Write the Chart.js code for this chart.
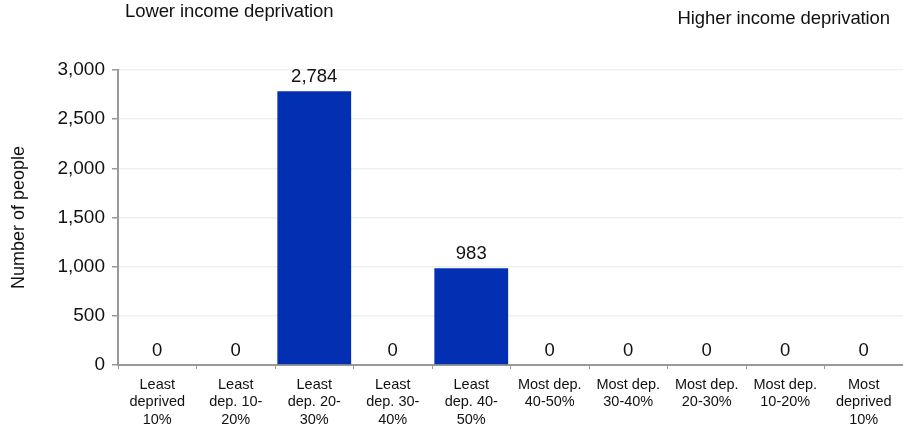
<!DOCTYPE html>
<html>
<head>
<meta charset="utf-8">
<script src="https://cdn.jsdelivr.net/npm/chart.js@4/dist/chart.umd.min.js"></script>
<style>
  body { margin: 0; background: #fff; }
  #wrap { position: relative; width: 903px; height: 430px; }
  .note { position: absolute; font-family: "Liberation Sans", Arial, sans-serif; font-size: 18.5px; color: #111; letter-spacing: -0.1px; }
</style>
</head>
<body>
<div id="wrap">
  <div class="note" style="left:125px; top:0px;">Lower income deprivation</div>
  <div class="note" style="right:13px; top:7px;">Higher income deprivation</div>
  <canvas id="myChart" width="903" height="430"></canvas>
</div>
<script>
const categories = [
  ["Least", "deprived", "10%"],
  ["Least", "dep. 10-", "20%"],
  ["Least", "dep. 20-", "30%"],
  ["Least", "dep. 30-", "40%"],
  ["Least", "dep. 40-", "50%"],
  ["Most dep.", "40-50%"],
  ["Most dep.", "30-40%"],
  ["Most dep.", "20-30%"],
  ["Most dep.", "10-20%"],
  ["Most", "deprived", "10%"],
];
const people = [0, 0, 2784, 0, 983, 0, 0, 0, 0, 0];
const yTicks = [0, 500, 1000, 1500, 2000, 2500, 3000];

const fontFamily = '"Liberation Sans", Arial, sans-serif';

// values above each bar
const barLabels = {
  id: "barLabels",
  afterDatasetsDraw(chart) {
    const c = chart.ctx;
    const meta = chart.getDatasetMeta(0);
    c.save();
    c.font = "18.5px " + fontFamily;
    c.fillStyle = "#111";
    c.textAlign = "center";
    c.textBaseline = "bottom";
    meta.data.forEach((bar, i) => {
      c.fillText(people[i].toLocaleString("en-US"), bar.x, bar.y - 5);
    });
    c.restore();
  },
};

const ctx = document.getElementById("myChart");

new Chart(ctx, {
  type: "bar",
  data: {
    labels: categories,
    datasets: [
      {
        label: "Number of people",
        data: people,
        backgroundColor: "#0330b2",
        borderWidth: 0,
        barPercentage: 0.94,
        categoryPercentage: 1,
      },
    ],
  },
  options: {
    responsive: false,
    animation: false,
    layout: { padding: { top: 70, right: 0, left: 8, bottom: 0 } },
    plugins: { legend: { display: false }, tooltip: { enabled: false } },
    scales: {
      y: {
        min: 0,
        max: 3000,
        afterBuildTicks: (axis) => {
          axis.ticks = yTicks.map((v) => ({ value: v }));
        },
        afterFit: (axis) => {
          axis.width = 110;
        },
        ticks: {
          color: "#111",
          font: { family: fontFamily, size: 19 },
          padding: 7,
          callback: (v) => v.toLocaleString("en-US"),
        },
        grid: { color: "#efefef", lineWidth: 1.5, tickLength: 6, tickColor: "#999" },
        border: { color: "#999", width: 2 },
        title: {
          display: true,
          text: "Number of people",
          color: "#111",
          font: { family: fontFamily, size: 18 },
          padding: 0,
        },
      },
      x: {
        afterFit: (axis) => {
          axis.height = 65;
        },
        ticks: {
          color: "#111",
          font: { family: fontFamily, size: 14.5, lineHeight: 1.2 },
          maxRotation: 0,
          autoSkip: false,
          padding: 7,
        },
        grid: { offset: true, drawOnChartArea: false, tickLength: 4, tickColor: "#999" },
        border: { color: "#999", width: 2 },
      },
    },
  },
  plugins: [barLabels],
});
</script>
</body>
</html>
